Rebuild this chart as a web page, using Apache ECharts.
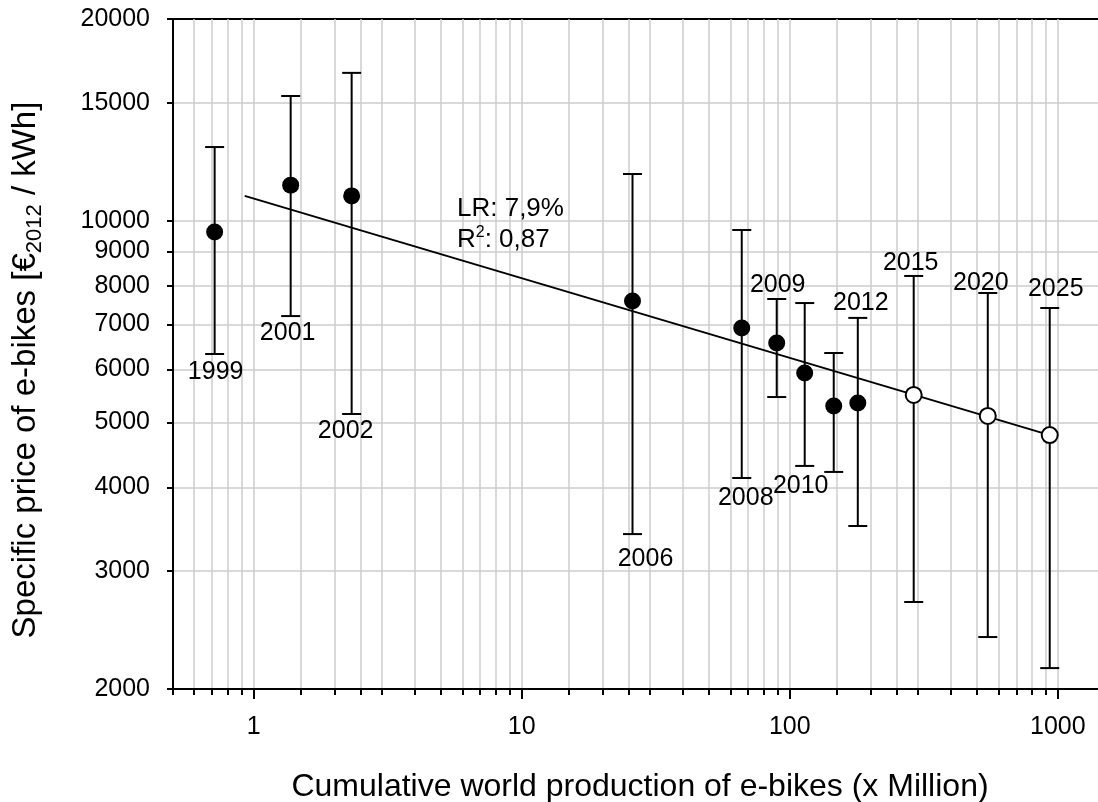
<!DOCTYPE html>
<html>
<head>
<meta charset="utf-8">
<script src="https://cdn.jsdelivr.net/npm/echarts@6/dist/echarts.min.js"></script>
<style>
html,body{margin:0;padding:0;background:#fff;}
#chart{width:1098px;height:802px;}
</style>
</head>
<body>
<div id="chart"></div>
<script>
// ---------- DATA ----------
const years      = ['1999','2001','2002','2006','2008','2009','2010','2011','2012','2015','2020','2025'];
const production = [0.715, 1.374, 2.32, 25.9, 66.2, 89.4, 113.7, 145.9, 179.4, 290, 548, 933];   // x Million
const price      = [9620, 11300, 10890, 7590, 6918, 6570, 5925, 5290, 5345, 5494, 5112, 4786];      // €2012/kWh
const priceLow   = [6325, 7205, 5146, 3406, 4130, 5455, 4305, 4217, 3502, 2697, 2391, 2149];
const priceHigh  = [12880, 15350, 16620, 11740, 9686, 7640, 7535, 6346, 7160, 8270, 7800, 7408];
const projected  = [false,false,false,false,false,false,false,false,false,true,true,true];
const yearLabelShown = [true,true,true,true,true,true,true,false,true,true,true,true];
const trendX = [0.926, 933];
const trendY = [10890, 4786];
const xTickLabels = [1, 10, 100, 1000];
const xGridValues = [0.6,0.7,0.8,0.9,1,1.5,2,2.5,3,4,5,6,7,8,9,10,15,20,25,30,40,50,60,70,80,90,100,150,200,250,300,400,500,600,700,800,900,1000,1500];
const xMinorTicks = [0.5].concat(xGridValues);
const yTickLabels = [2000,3000,4000,5000,6000,7000,8000,9000,10000,15000,20000];
const yGridValues = [3000,4000,5000,6000,7000,8000,9000,10000,15000];
const xTitle = 'Cumulative world production of e-bikes (x Million)';
const lrText = 'LR: 7,9%';
const r2Value = ': 0,87';

// ---------- LAYOUT / STYLE (not data) ----------
// label placement relative to the error-bar end: [anchor, dx, dy]
const yearLabelPlacement = [
  ['low', 1, 18], ['low', -3, 17], ['low', -6, 17], ['low', 13, 25], ['low', 4, 20],
  ['high', 1, -14], ['low', -4, 20], null, ['high', 3, -15], ['high', -3, -13],
  ['high', -7, -10], ['high', 6, -19]
];
const FONT = '"Liberation Sans", Arial, sans-serif';
const TICK_FS = 25;

const errData = production.map((x, i) => [x, priceLow[i], priceHigh[i]]);
const filled = [], open = [];
production.forEach((x, i) => { (projected[i] ? open : filled).push([x, price[i]]); });

const chart = echarts.init(document.getElementById('chart'), null, { renderer: 'canvas' });
const logMinX = 0.5, logMaxX = 1500, logMinY = 2000, logMaxY = 20000;

const option = {
  animation: false,
  backgroundColor: '#fff',
  grid: {
    left: 173, top: 19, right: -7, bottom: 113,
    show: true, borderColor: '#000', borderWidth: 2, backgroundColor: 'transparent',
    containLabel: false, outerBoundsMode: 'none'
  },
  xAxis: [
    {
      type: 'log', logBase: 10, min: logMinX, max: logMaxX, position: 'bottom',
      axisLine: { show: true, onZero: false, lineStyle: { color: '#000', width: 2 } },
      axisTick: { show: true, inside: false, length: 6, customValues: xMinorTicks, lineStyle: { color: '#000', width: 2 } },
      axisLabel: { show: true, customValues: xTickLabels, margin: 26, color: '#000', fontSize: TICK_FS, fontFamily: FONT,
                   formatter: v => String(Math.round(v)) },
      splitLine: { show: false }, minorTick: { show: false }, minorSplitLine: { show: false }
    },
    {
      type: 'log', logBase: 10, min: logMinX, max: logMaxX, position: 'bottom',
      axisLine: { show: false },
      axisTick: { show: true, inside: false, length: 10, customValues: xTickLabels, lineStyle: { color: '#000', width: 2 } },
      axisLabel: { show: false }, splitLine: { show: false }
    },
    {
      type: 'log', logBase: 10, min: logMinX, max: logMaxX, position: 'bottom',
      axisLine: { show: false },
      axisTick: { show: false, customValues: xGridValues },
      axisLabel: { show: false },
      splitLine: { show: true, lineStyle: { color: '#cccccc', width: 1.5 } }
    }
  ],
  yAxis: [
    {
      type: 'log', logBase: 10, min: logMinY, max: logMaxY, position: 'left',
      axisLine: { show: true, onZero: false, lineStyle: { color: '#000', width: 2 } },
      axisTick: { show: true, inside: false, length: 6, customValues: yTickLabels, lineStyle: { color: '#000', width: 2 } },
      axisLabel: { show: true, customValues: yTickLabels, margin: 23, color: '#000', fontSize: TICK_FS, fontFamily: FONT,
                   formatter: v => String(Math.round(v)) },
      splitLine: { show: false }, minorTick: { show: false }
    },
    {
      type: 'log', logBase: 10, min: logMinY, max: logMaxY, position: 'left',
      axisLine: { show: false },
      axisTick: { show: false, customValues: yGridValues },
      axisLabel: { show: false },
      splitLine: { show: true, lineStyle: { color: '#cccccc', width: 1.5 } }
    }
  ],
  series: [
    {
      type: 'custom', name: 'range', xAxisIndex: 0, yAxisIndex: 0,
      data: errData, encode: { x: 0, y: [1, 2] }, silent: true, z: 3,
      renderItem: function (params, api) {
        const i = params.dataIndex;
        const x = api.value(0), lo = api.value(1), hi = api.value(2);
        const pLo = api.coord([x, lo]), pHi = api.coord([x, hi]);
        const hw = 9.5;
        const st = { stroke: '#000', lineWidth: 2, fill: null };
        const children = [
          { type: 'line', shape: { x1: pLo[0], y1: pLo[1], x2: pHi[0], y2: pHi[1] }, style: st },
          { type: 'line', shape: { x1: pHi[0] - hw, y1: pHi[1], x2: pHi[0] + hw, y2: pHi[1] }, style: st },
          { type: 'line', shape: { x1: pLo[0] - hw, y1: pLo[1], x2: pLo[0] + hw, y2: pLo[1] }, style: st }
        ];
        const pl = yearLabelPlacement[i];
        if (yearLabelShown[i] && pl) {
          const a = pl[0] === 'low' ? pLo : pHi;
          children.push({
            type: 'text', x: a[0] + pl[1], y: a[1] + pl[2], z2: 20,
            style: { text: years[i], fill: '#000', font: TICK_FS + 'px ' + FONT, align: 'center', verticalAlign: 'middle' }
          });
        }
        return { type: 'group', children: children };
      }
    },
    {
      type: 'line', name: 'trend', xAxisIndex: 0, yAxisIndex: 0,
      data: trendX.map((x, i) => [x, trendY[i]]),
      showSymbol: false, symbol: 'none', silent: true, z: 4,
      lineStyle: { color: '#000', width: 2 }
    },
    {
      type: 'scatter', name: 'observed', xAxisIndex: 0, yAxisIndex: 0,
      data: filled, symbol: 'circle', symbolSize: 17, z: 5,
      itemStyle: { color: '#000', opacity: 1 }
    },
    {
      type: 'scatter', name: 'projected', xAxisIndex: 0, yAxisIndex: 0,
      data: open, symbol: 'circle', symbolSize: 16, z: 5,
      itemStyle: { color: '#fff', borderColor: '#000', borderWidth: 2, opacity: 1 }
    }
  ],
  graphic: [
    {
      type: 'text', x: 26, y: 370, rotation: Math.PI / 2, z: 10,
      style: {
        text: '{a|Specific price of e-bikes [€}{s|2012}{a| / kWh]}',
        align: 'center', verticalAlign: 'middle', fill: '#000',
        font: '33px ' + FONT,
        rich: {
          a: { font: '33px ' + FONT, lineHeight: 40, fill: '#000' },
          s: { font: '22px ' + FONT, lineHeight: 22, fill: '#000', verticalAlign: 'bottom' }
        }
      }
    },
    {
      type: 'text', x: 640, y: 787, z: 10,
      style: { text: xTitle, align: 'center', verticalAlign: 'middle', fill: '#000', font: '32px ' + FONT }
    },
    {
      type: 'text', x: 457, y: 209, z: 10,
      style: { text: lrText, align: 'left', verticalAlign: 'middle', fill: '#000', font: '26px ' + FONT }
    },
    {
      type: 'text', x: 457, y: 240, z: 10,
      style: {
        text: '{a|R}{p|2}{a|' + r2Value + '}',
        align: 'left', verticalAlign: 'middle', fill: '#000', font: '26px ' + FONT,
        rich: {
          a: { font: '26px ' + FONT, lineHeight: 30, fill: '#000' },
          p: { font: '16px ' + FONT, lineHeight: 16, fill: '#000', verticalAlign: 'top' }
        }
      }
    }
  ]
};
chart.setOption(option);
</script>
</body>
</html>
